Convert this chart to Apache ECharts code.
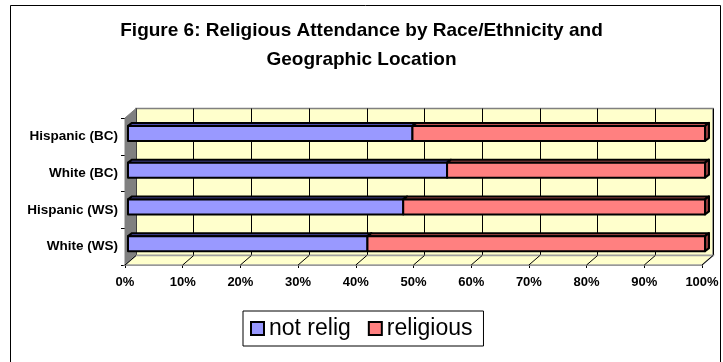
<!DOCTYPE html>
<html>
<head>
<meta charset="utf-8">
<script src="https://cdn.jsdelivr.net/npm/echarts@6/dist/echarts.min.js"></script>
<style>
  html, body { margin: 0; padding: 0; background: #fff; }
  #chart { width: 723px; height: 362px; }
</style>
</head>
<body>
<div id="chart"></div>
<script>
// Share of respondents (%) by group, bottom row first
const categories = ['White (WS)', 'Hispanic (WS)', 'White (BC)', 'Hispanic (BC)'];
const notRelig  = [41.5, 47.7, 55.3, 49.3];
const religious = [58.5, 52.3, 44.7, 50.7];
const seriesNames = ['not relig', 'religious'];
const percentTicks = [0, 10, 20, 30, 40, 50, 60, 70, 80, 90, 100];

const FONT = '"Liberation Sans", Arial, Helvetica, sans-serif';

// Oblique projection used for the pseudo-3D box
const DEPTH_X = 11, DEPTH_Y = 9.5;     // full depth of floor / side wall
const BAR_OFF_X = 3, BAR_OFF_Y = 3;    // bar front face sits slightly behind the floor edge
const BAR_DX = 4, BAR_DY = 3;          // bar thickness in depth
const BAR_H = 15;                      // bar front face height

const COLORS = {
  blue: '#9999FF', blueTop: '#4C4CA8',
  red: '#FF8080', redTop: '#B85050', redSide: '#8C3A3A',
  wall: '#FFFFCC', sideWall: '#808080'
};

// stacked segments: [categoryIndex, start, end]
const notReligSegs = categories.map((c, i) => [i, 0, notRelig[i]]);
const religSegs = categories.map((c, i) => [i, notRelig[i], notRelig[i] + religious[i]]);

function makeBarRenderer(front, top, side) {
  return function (params, api) {
    const cat = api.value(0);
    const p0 = api.coord([api.value(1), cat]);
    const p1 = api.coord([api.value(2), cat]);
    const x0 = p0[0] + BAR_OFF_X, x1 = p1[0] + BAR_OFF_X;
    const yc = p0[1] - BAR_OFF_Y;
    const yt = yc - BAR_H / 2, yb = yc + BAR_H / 2;
    const stroke = { stroke: '#000', lineWidth: 2, lineJoin: 'round' };
    const children = [
      { type: 'polygon',
        shape: { points: [[x0, yt], [x0 + BAR_DX, yt - BAR_DY], [x1 + BAR_DX, yt - BAR_DY], [x1, yt]] },
        style: Object.assign({ fill: top }, stroke) }
    ];
    if (side) {
      children.push({ type: 'polygon',
        shape: { points: [[x1, yt], [x1 + BAR_DX, yt - BAR_DY], [x1 + BAR_DX, yb - BAR_DY], [x1, yb]] },
        style: Object.assign({ fill: side }, stroke) });
    }
    children.push({ type: 'rect',
      shape: { x: x0, y: yt, width: x1 - x0, height: BAR_H },
      style: Object.assign({ fill: front }, stroke) });
    return { type: 'group', children: children };
  };
}

// Left side wall, floor and the floor grid lines
function renderBox(params, api) {
  const cs = params.coordSys;
  const L = cs.x, T = cs.y, R = cs.x + cs.width, B = cs.y + cs.height;
  const children = [
    { type: 'polygon',
      shape: { points: [[L, T], [L + DEPTH_X, T - DEPTH_Y], [L + DEPTH_X, B - DEPTH_Y], [L, B]] },
      style: { fill: COLORS.sideWall, stroke: '#808080', lineWidth: 1 } },
    { type: 'polygon',
      shape: { points: [[L, B], [L + DEPTH_X, B - DEPTH_Y], [R + DEPTH_X, B - DEPTH_Y], [R, B]] },
      style: { fill: COLORS.wall, stroke: '#A0A0A0', lineWidth: 1.5 } }
  ];
  percentTicks.forEach(v => {
    const x = api.coord([v, 0])[0];
    children.push({ type: 'line',
      shape: { x1: x, y1: B, x2: x + DEPTH_X, y2: B - DEPTH_Y },
      style: { stroke: '#000', lineWidth: 1 } });
  });
  return { type: 'group', children: children };
}

const chart = echarts.init(document.getElementById('chart'), null, { renderer: 'canvas' });

chart.setOption({
  animation: false,
  backgroundColor: '#fff',
  title: {
    text: 'Figure 6: Religious Attendance by Race/Ethnicity and\nGeographic Location',
    left: 'center', top: 16, padding: 0,
    textStyle: { fontFamily: FONT, fontSize: 19, fontWeight: 'bold', color: '#000', lineHeight: 29 }
  },
  legend: {
    data: seriesNames,
    left: 243, top: 311,
    padding: [6, 11, 6, 7],
    itemGap: 17,
    itemWidth: 13, itemHeight: 13,
    icon: 'rect',
    borderColor: '#000', borderWidth: 1,
    itemStyle: { borderColor: '#000', borderWidth: 2 },
    textStyle: { fontFamily: FONT, fontSize: 23, color: '#000' }
  },
  graphic: [
    { type: 'rect', z: 100, silent: true,
      shape: { x: 10.5, y: 5.5, width: 710, height: 360 },
      style: { fill: null, stroke: '#000', lineWidth: 1 } }
  ],
  grid: [
    { left: 125, right: 21, top: 118, bottom: 97 },
    { left: 125 + DEPTH_X, right: 21 - DEPTH_X, top: 118 - DEPTH_Y, bottom: 97 + DEPTH_Y,
      show: true, backgroundColor: COLORS.wall, borderColor: '#808080', borderWidth: 1.5 }
  ],
  xAxis: [
    { type: 'value', gridIndex: 0, min: 0, max: 100, interval: 10,
      axisLine: { show: true, lineStyle: { color: '#808080', width: 2 } },
      axisTick: { show: true, length: 3, lineStyle: { color: '#000' } },
      splitLine: { show: false },
      axisLabel: { formatter: '{value}%', margin: 11, fontFamily: FONT, fontSize: 13,
                   fontWeight: 'bold', color: '#000' } },
    { type: 'value', gridIndex: 1, min: 0, max: 100, interval: 10,
      axisLine: { show: false }, axisTick: { show: false }, axisLabel: { show: false },
      splitLine: { show: true, lineStyle: { color: '#000', width: 1 } } }
  ],
  yAxis: [
    { type: 'category', gridIndex: 0, data: categories,
      axisLine: { show: true, lineStyle: { color: '#000', width: 1 } },
      axisTick: { show: true, length: 4, lineStyle: { color: '#000' } },
      axisLabel: { margin: 7, fontFamily: FONT, fontSize: 13.5, fontWeight: 'bold', color: '#000' } },
    { type: 'value', gridIndex: 1, min: 0, max: 1, show: false }
  ],
  series: [
    { type: 'custom', name: 'box', xAxisIndex: 0, yAxisIndex: 0, z: 2, silent: true,
      renderItem: renderBox, data: [[0, 0]], encode: { x: 0, y: 1 } },
    { type: 'custom', name: seriesNames[0], xAxisIndex: 0, yAxisIndex: 0, z: 3,
      itemStyle: { color: COLORS.blue },
      renderItem: makeBarRenderer(COLORS.blue, COLORS.blueTop, null),
      encode: { x: [1, 2], y: 0 }, data: notReligSegs },
    { type: 'custom', name: seriesNames[1], xAxisIndex: 0, yAxisIndex: 0, z: 4,
      itemStyle: { color: COLORS.red },
      renderItem: makeBarRenderer(COLORS.red, COLORS.redTop, COLORS.redSide),
      encode: { x: [1, 2], y: 0 }, data: religSegs }
  ]
});
</script>
</body>
</html>
